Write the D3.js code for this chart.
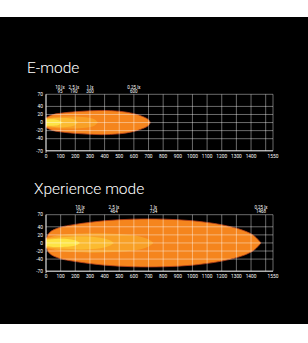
<!DOCTYPE html>
<html>
<head>
<meta charset="utf-8">
<script src="https://cdn.jsdelivr.net/npm/d3@7"></script>
<style>
  body { margin: 0; background: #fff; }
  svg { display: block; }
  text { font-family: Roboto, "Liberation Sans", sans-serif; }
</style>
</head>
<body>
<svg id="chart"></svg>
<script>
// x ticks (distance, m)
var xTicks = [0,100,200,300,400,500,600,700,800,900,1000,1100,1200,1300,1400,1550];
var xGrid = [0,100,200,300,400,500,600,700,800,900,1000,1100,1200,1300,1400,1500,1550];
// y ticks (width, m)
var yTicks = [70,40,20,0,-20,-40,-70];

// E-mode lux markers
var eLux = ["10 lx","2.5 lx","1 lx","0.25 lx"];
var eDist = [95,190,300,600];
// E-mode contours: [distance, half width]
var e025 = [[0,12],[40,19],[120,24],[250,28],[380,30],[500,28],[600,22],[660,15],[700,7],[712,0]];
var e1 = [[0,11],[80,14],[180,15],[270,13],[330,8],[355,0]];
var e25 = [[0,9],[60,11],[140,11],[195,7],[218,0]];
var e10 = [[0,7],[40,8],[85,6],[115,0]];

// Xperience mode lux markers
var xLux = ["10 lx","2.5 lx","1 lx","0.25 lx"];
var xDist = [232,464,734,1468];
var x025 = [[0,10],[25,26],[90,38],[200,46],[400,55],[600,59],[800,59],[1000,55],[1200,45],[1340,32],[1420,18],[1468,0]];
var x1 = [[0,12],[100,20],[300,24],[500,22],[640,16],[705,8],[734,0]];
var x25 = [[0,10],[100,14],[250,16],[370,13],[435,7],[464,0]];
var x10 = [[0,8],[70,10],[160,9],[210,5],[232,0]];

var W = 308, H = 343;
var svg = d3.select("#chart").attr("width", W).attr("height", H);

svg.append("rect").attr("x",0).attr("y",17).attr("width",W).attr("height",307).attr("fill","#000");

var colors = ["#f5851d","#f8a026","#fbbb30","#fde445"];

function drawPanel(top, title, titleX, lux, dist, layers) {
    var x = d3.scaleLinear().domain([0,1550]).range([46,273]);
    var y = d3.scaleLinear().domain([70,-70]).range([top, top+56.5]);

    var g = svg.append("g");

    g.append("text")
        .attr("x", titleX).attr("y", top - 21)
        .attr("fill", "#fff")
        .attr("font-size", 15.5)
        .attr("font-weight", 300)
        .text(title);

    // beam contours
    var area = d3.area()
        .x(function(d) { return x(d[0]); })
        .y0(function(d) { return y(-d[1]); })
        .y1(function(d) { return y(d[1]); })
        .curve(d3.curveCatmullRom);

    layers.forEach(function(l, i) {
        g.append("path")
            .datum(l)
            .attr("d", area)
            .attr("fill", colors[i])
            .attr("stroke", i == 0 ? "#b8401c" : "none")
            .attr("stroke-width", i == 0 ? 0.8 : 0);
    });

    // grid
    g.selectAll(".vg").data(xGrid).enter().append("line")
        .attr("x1", function(d) { return x(d); })
        .attr("x2", function(d) { return x(d); })
        .attr("y1", y(70)).attr("y2", y(-70))
        .attr("stroke", "#fff").attr("stroke-opacity", 0.7).attr("stroke-width", 0.6);
    g.selectAll(".hg").data(yTicks).enter().append("line")
        .attr("x1", x(0)).attr("x2", x(1550))
        .attr("y1", function(d) { return y(d); })
        .attr("y2", function(d) { return y(d); })
        .attr("stroke", "#fff").attr("stroke-opacity", 0.7).attr("stroke-width", 0.6);

    // axes
    g.append("line").attr("x1", x(0)).attr("x2", x(0)).attr("y1", y(70)).attr("y2", y(-70) + 2)
        .attr("stroke", "#fff").attr("stroke-width", 0.8);
    g.append("line").attr("x1", x(0)).attr("x2", x(1550)).attr("y1", y(-70)).attr("y2", y(-70))
        .attr("stroke", "#fff").attr("stroke-width", 0.8);

    g.selectAll(".xl").data(xTicks).enter().append("text")
        .attr("x", function(d) { return x(d); })
        .attr("y", y(-70) + 7)
        .attr("text-anchor", "middle")
        .attr("fill", "#fff").attr("font-size", 4.8)
        .text(function(d) { return d; });

    g.selectAll(".yl").data(yTicks).enter().append("text")
        .attr("x", 43)
        .attr("y", function(d) { return y(d) + 1.7; })
        .attr("text-anchor", "end")
        .attr("fill", "#fff").attr("font-size", 4.8)
        .text(function(d) { return d; });

    // lux markers
    dist.forEach(function(d, i) {
        g.append("text").attr("x", x(d)).attr("y", top - 5.5)
            .attr("text-anchor", "middle").attr("fill", "#fff").attr("font-size", 4.5)
            .text(lux[i]);
        g.append("text").attr("x", x(d)).attr("y", top - 1.5)
            .attr("text-anchor", "middle").attr("fill", "#fff").attr("font-size", 4.5)
            .text(d);
    });
}

drawPanel(94.3, "E-mode", 27, eLux, eDist, [e025, e1, e25, e10]);
drawPanel(214.7, "Xperience mode", 34, xLux, xDist, [x025, x1, x25, x10]);
</script>
</body>
</html>
